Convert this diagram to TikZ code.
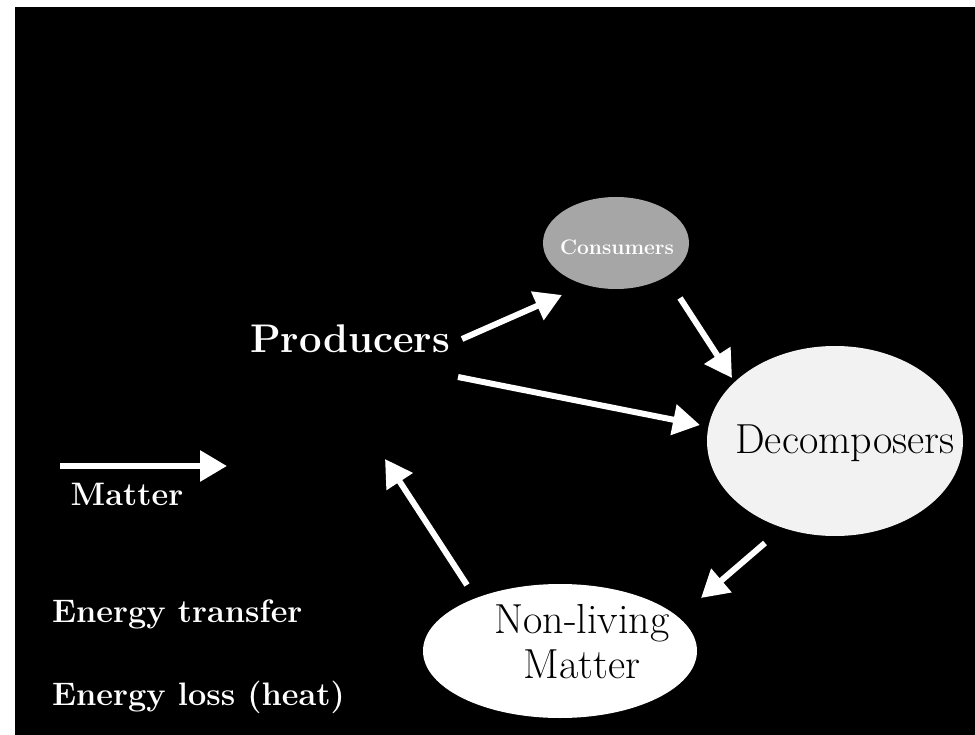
\documentclass[tikz,border=0pt]{standalone}
\usetikzlibrary{arrows.meta,shapes.geometric}
\begin{document}
\begin{tikzpicture}[x=1pt,y=-1pt,
  flow/.style={draw=white,line width=6pt,-{Triangle[length=27pt,width=30pt]}},
  blob/.style={ellipse,inner sep=0pt},
  big/.style={font=\fontsize{42}{45}\selectfont},
  legend/.style={text=white,font=\bfseries\fontsize{32.5}{36}\selectfont,anchor=base west,inner sep=0pt}]
\useasboundingbox (0,0) rectangle (975,735);
\fill[white] (0,0) rectangle (975,735);
\fill[black] (15,7) rectangle (975,735);
% ellipses
\node[blob,fill=gray!70,minimum width=146pt,minimum height=92pt] (cons) at (616,243) {};
\node[blob,fill=black!5,minimum width=256pt,minimum height=190pt] (dec) at (835,441) {};
\node[blob,fill=white,minimum width=274pt,minimum height=134pt] (nonl) at (560,651) {};
% texts
\node[text=white,font=\bfseries\fontsize{21}{25}\selectfont,anchor=base,inner sep=0pt] (constext) at (617,255) {Consumers};
\node[big,anchor=base,inner sep=0pt] (dectext) at (845,453) {Decomposers};
\node[big,anchor=base,inner sep=0pt,align=center] (nonltext) at (582,678) {Non-living\\Matter};
\node[text=white,font=\bfseries\fontsize{40}{45}\selectfont,anchor=base,inner sep=0pt] (prod) at (350,353) {Producers};
% arrow end points
\coordinate (pc1) at (462,339);
\coordinate (pc2) at (562,295);
\coordinate (pd1) at (458,377);
\coordinate (pd2) at (700,425);
\coordinate (cd1) at (680,298);
\coordinate (cd2) at (732,378);
\coordinate (dn1) at (765,543);
\coordinate (dn2) at (701,598);
\coordinate (np1) at (467,585);
\coordinate (np2) at (385,459);
\coordinate (lg1) at (60,466);
\coordinate (lg2) at (227,466);
\draw[flow] (pc1) -- (pc2);
\draw[flow] (pd1) -- (pd2);
\draw[flow] (cd1) -- (cd2);
\draw[flow] (dn1) -- (dn2);
\draw[flow] (np1) -- (np2);
\draw[flow] (lg1) -- (lg2);
% legend
\node[legend,anchor=base] (matter) at (127,505) {Matter};
\node[legend] (etrans) at (52,622) {Energy transfer};
\node[legend] (eloss) at (52,705) {Energy loss (heat)};
\end{tikzpicture}
\end{document}
